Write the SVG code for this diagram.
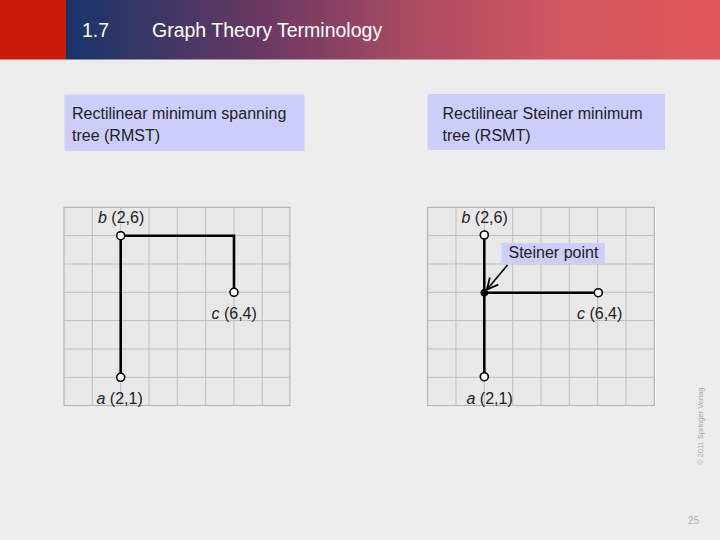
<svg xmlns="http://www.w3.org/2000/svg" width="720" height="540" viewBox="0 0 720 540">
<defs>
<linearGradient id="hdr" x1="0" y1="0" x2="1" y2="0">
<stop offset="0" stop-color="#17356a"/>
<stop offset="0.3" stop-color="#6a3862"/>
<stop offset="0.52" stop-color="#a84a62"/>
<stop offset="0.75" stop-color="#d05660"/>
<stop offset="1" stop-color="#e05858"/>
</linearGradient>
<marker id="arr" markerWidth="14" markerHeight="14" refX="12" refY="7" orient="auto" markerUnits="userSpaceOnUse">
<path d="M1 1.5L12 7L1 12.5" fill="none" stroke="#000" stroke-width="1.8"/>
</marker>
<style>
.t{font-family:"Liberation Sans",Arial,sans-serif;font-size:16px;fill:#222}
.h{font-family:"Liberation Sans",Arial,sans-serif;font-size:19.5px;fill:#fff}
.box{fill:#cdcdfa}
.panel{fill:#e8e8e8;stroke:#a8a8a8;stroke-width:1}
.grid{fill:none;stroke:#bdbdbd;stroke-width:1}
.edge{stroke:#000;stroke-width:2.6;fill:none}
.node{fill:#fff;stroke:#000;stroke-width:1.6}
</style>
</defs>
<rect width="720" height="540" fill="#ececec"/>
<g id="header">
<rect x="0" y="0" width="66" height="59.5" fill="#cc1a0a"/>
<rect x="66" y="0" width="654" height="59.5" fill="url(#hdr)"/>
<text class="h" x="82" y="37">1.7</text>
<text class="h" x="152" y="37">Graph Theory Terminology</text>
</g>
<g id="label-rmst">
<rect class="box" x="64.5" y="94.5" width="240" height="56.5"/>
<text class="t" x="72" y="119">Rectilinear minimum spanning</text>
<text class="t" x="72" y="140.5">tree (RMST)</text>
</g>
<g id="label-rsmt">
<rect class="box" x="427.5" y="94" width="237.5" height="56"/>
<text class="t" x="442.5" y="119">Rectilinear Steiner minimum</text>
<text class="t" x="442.5" y="140.5">tree (RSMT)</text>
</g>
<g id="panel-left">
<rect x="65" y="208.3" width="226" height="198.4" fill="none" stroke="#fafafa" stroke-width="1.2"/>
<rect class="panel" x="64" y="207.3" width="226" height="198.4"/>
<path class="grid" d="M92.3 207.3V405.7M120.7 207.3V405.7M149 207.3V405.7M177.3 207.3V405.7M205.7 207.3V405.7M234 207.3V405.7M262.3 207.3V405.7M64 235.6H290M64 264H290M64 292.3H290M64 320.6H290M64 349H290M64 377.3H290"/>
</g>
<g id="panel-right">
<rect x="428.7" y="208.3" width="226.6" height="198.4" fill="none" stroke="#fafafa" stroke-width="1.2"/>
<rect class="panel" x="427.7" y="207.3" width="226.6" height="198.4"/>
<path class="grid" d="M456 207.3V405.7M484.3 207.3V405.7M512.7 207.3V405.7M541 207.3V405.7M569.3 207.3V405.7M597.7 207.3V405.7M626 207.3V405.7M427.7 235.6H654.3M427.7 264H654.3M427.7 292.3H654.3M427.7 320.6H654.3M427.7 349H654.3M427.7 377.3H654.3"/>
</g>
<g id="connectors">
<path class="edge" d="M120.7 377.3V235.7H234V292.3"/>
<path class="edge" d="M484.3 376.7V235"/>
<path class="edge" d="M484.3 292.7H598.3"/>
<line x1="507.5" y1="265" x2="487" y2="289.5" stroke="#000" stroke-width="1.6" marker-end="url(#arr)"/>
</g>
<g id="node-b-left"><circle class="node" cx="120.7" cy="235.7" r="4"/><text class="t" x="98" y="223"><tspan font-style="italic">b</tspan> (2,6)</text></g>
<g id="node-c-left"><circle class="node" cx="234" cy="292.3" r="4"/><text class="t" x="211.5" y="319"><tspan font-style="italic">c</tspan> (6,4)</text></g>
<g id="node-a-left"><circle class="node" cx="120.7" cy="377.3" r="4"/><text class="t" x="96.5" y="403.5"><tspan font-style="italic">a</tspan> (2,1)</text></g>
<g id="node-b-right"><circle class="node" cx="484.3" cy="235" r="4"/><text class="t" x="461.5" y="223"><tspan font-style="italic">b</tspan> (2,6)</text></g>
<g id="node-c-right"><circle class="node" cx="598.3" cy="292.7" r="4"/><text class="t" x="577" y="319"><tspan font-style="italic">c</tspan> (6,4)</text></g>
<g id="node-a-right"><circle class="node" cx="484.3" cy="376.7" r="4"/><text class="t" x="466.5" y="403.5"><tspan font-style="italic">a</tspan> (2,1)</text></g>
<g id="steiner-point"><circle cx="484.3" cy="292.7" r="3.8" fill="#000"/></g>
<g id="steiner-label">
<rect class="box" x="501.5" y="243" width="103.5" height="20.5"/>
<text class="t" x="508.5" y="257.5">Steiner point</text>
</g>
<g id="footer">
<text x="703" y="465" transform="rotate(-90 703 465)" font-family="Liberation Sans,Arial,sans-serif" font-size="7.5" fill="#a8a8a8">© 2011 Springer Verlag</text>
<text x="688" y="524" font-family="Liberation Sans,Arial,sans-serif" font-size="10" fill="#b0b0b0">25</text>
</g>
</svg>
